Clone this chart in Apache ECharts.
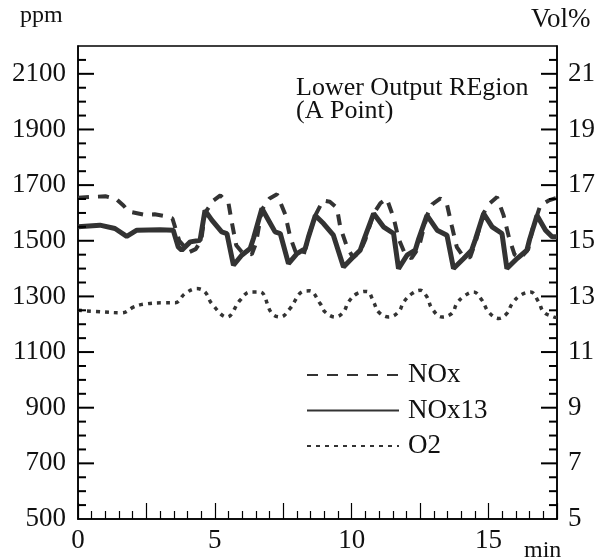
<!DOCTYPE html>
<html>
<head>
<meta charset="utf-8">
<script src="https://cdn.jsdelivr.net/npm/echarts@6/dist/echarts.min.js"></script>
<style>
  html, body { margin: 0; padding: 0; background: #fff; }
  #chart { width: 606px; height: 560px; }
</style>
</head>
<body>
<div id="chart"></div>
<script>
// time in min, NOx / NOx13 in ppm (left axis), O2 in Vol% (right axis)
const noxT = [0, 1.0, 1.4, 1.66, 1.85, 2.4, 2.8, 3.2, 3.45, 3.7, 4.06, 4.3, 4.5, 4.64, 4.95, 5.2, 5.5, 5.62, 5.78, 6.0, 6.35, 6.5, 6.72, 7.0, 7.27, 7.57, 7.75, 7.95, 8.24, 8.42, 8.67, 8.95, 9.2, 9.46, 9.58, 9.83, 10.05, 10.31, 10.5, 10.8, 11.05, 11.28, 11.53, 11.71, 11.95, 12.18, 12.45, 12.75, 12.94, 13.24, 13.48, 13.66, 13.84, 14.1, 14.33, 14.55, 14.82, 15.05, 15.31, 15.55, 15.74, 15.95, 16.16, 16.45, 16.6, 16.89, 17.2, 17.5];
const noxV = [1655, 1660, 1650, 1627, 1605, 1594, 1595, 1588, 1580, 1500, 1459, 1470, 1500, 1600, 1645, 1663, 1634, 1566, 1484, 1458, 1451, 1490, 1612, 1652, 1667, 1595, 1514, 1460, 1448, 1514, 1591, 1645, 1640, 1618, 1550, 1477, 1440, 1462, 1505, 1598, 1635, 1651, 1583, 1508, 1452, 1437, 1475, 1591, 1631, 1652, 1631, 1552, 1477, 1440, 1441, 1505, 1600, 1635, 1657, 1591, 1514, 1450, 1437, 1470, 1540, 1627, 1645, 1655];

const nox13T = [0, 0.8, 1.35, 1.78, 2.15, 3.0, 3.48, 3.66, 3.79, 4.1, 4.46, 4.64, 4.89, 5.25, 5.44, 5.68, 5.98, 6.29, 6.41, 6.72, 6.96, 7.2, 7.39, 7.69, 8.0, 8.3, 8.42, 8.67, 8.97, 9.33, 9.7, 10.0, 10.31, 10.45, 10.8, 11.16, 11.53, 11.71, 12.02, 12.32, 12.45, 12.75, 13.12, 13.48, 13.72, 14.09, 14.38, 14.52, 14.82, 15.13, 15.49, 15.67, 16.04, 16.4, 16.5, 16.77, 17.08, 17.32, 17.5];
const nox13V = [1550, 1556, 1544, 1516, 1538, 1540, 1538, 1478, 1466, 1496, 1502, 1609, 1574, 1532, 1526, 1412, 1448, 1472, 1508, 1616, 1574, 1532, 1526, 1418, 1454, 1472, 1514, 1591, 1562, 1520, 1406, 1436, 1466, 1505, 1598, 1550, 1526, 1400, 1448, 1466, 1508, 1591, 1538, 1520, 1400, 1436, 1466, 1505, 1598, 1550, 1526, 1400, 1436, 1466, 1505, 1591, 1538, 1514, 1514];

const o2T = [0, 0.93, 1.6, 2.04, 2.4, 3.12, 3.55, 3.91, 4.34, 4.64, 4.89, 5.44, 5.92, 6.29, 6.65, 7.08, 7.39, 7.75, 8.18, 8.45, 8.85, 9.03, 9.4, 9.7, 9.88, 10.19, 10.55, 10.8, 10.98, 11.35, 11.71, 11.9, 12.2, 12.5, 12.75, 12.93, 13.3, 13.66, 13.84, 14.09, 14.45, 14.76, 15.0, 15.37, 15.67, 15.86, 16.16, 16.53, 16.83, 17.01, 17.38, 17.5];
const o2V = [12.5, 12.44, 12.41, 12.62, 12.72, 12.77, 12.77, 13.1, 13.28, 13.16, 12.74, 12.26, 12.86, 13.16, 13.16, 12.39, 12.26, 12.57, 13.16, 13.2, 12.74, 12.44, 12.26, 12.44, 12.8, 13.1, 13.18, 12.8, 12.44, 12.26, 12.44, 12.8, 13.1, 13.22, 12.98, 12.57, 12.26, 12.39, 12.74, 13.0, 13.16, 12.86, 12.44, 12.21, 12.39, 12.74, 13.04, 13.16, 12.8, 12.44, 12.26, 12.24];

const xTicksShown = [0, 5, 10, 15];

// y tick marks: left every 50 ppm (long each 200 from 500), right every 0.5 Vol% (long each 2 from 5)
const ppmTicks = [];
for (let v = 550; v < 2200; v += 50) ppmTicks.push(v);
const volTicks = [];
for (let v = 5.5; v < 22; v += 0.5) volTicks.push(v);

const pairs = (t, v) => t.map((x, i) => [x, v[i]]);

const font = '"Liberation Serif", "DejaVu Serif", serif';
const ink = '#111';
const lineCol = '#333';
const xMax = 17.5;
const pxPerMin = (606 - 78 - 49) / xMax;

let myChart = echarts.init(document.getElementById('chart'));

function yLabelAxis(side, min, max, interval, maxLabel) {
    return {
        type: 'value', position: side, min: min, max: max, interval: interval,
        axisLine: { show: true, onZero: false, lineStyle: { color: '#000', width: 1.5 } },
        axisTick: { show: false },
        splitLine: { show: false },
        axisLabel: {
            fontFamily: font, fontSize: 27, color: ink, margin: side === 'left' ? 12 : 11,
            formatter: v => v > maxLabel ? '' : String(v)
        }
    };
}

// one short line series per tick, drawn from the axis edge inward
function tickSeries(axisIdx, xEdge, dir, base, major, ticks) {
    return ticks.map(v => {
        const r = (v - base) / major;
        const len = (Math.abs(r - Math.round(r)) < 1e-6 ? 16 : 8) / pxPerMin;
        return {
            type: 'line', yAxisIndex: axisIdx, silent: true, symbol: 'none', z: 5,
            clip: false,
            lineStyle: { color: '#000', width: 2 },
            data: [[xEdge, v], [xEdge + dir * len, v]]
        };
    });
}

let option = {
    animation: false,
    backgroundColor: '#fff',
    textStyle: { fontFamily: font, color: ink },
    title: {
        text: 'Lower Output REgion\n(A Point)',
        left: 296,
        top: 77,
        padding: 0,
        textStyle: { fontFamily: font, fontSize: 26, fontWeight: 'normal', color: ink, lineHeight: 23 }
    },
    legend: {
        orient: 'vertical',
        left: 306,
        top: 361,
        itemWidth: 92,
        itemHeight: 20,
        itemGap: 7.5,
        padding: 0,
        // hide the marker that ECharts puts on line legend icons
        itemStyle: { color: 'rgba(0,0,0,0)', borderColor: 'rgba(0,0,0,0)', borderWidth: 0 },
        textStyle: { fontFamily: font, fontSize: 27, color: ink, lineHeight: 28, padding: [0, 0, 0, 4] },
        data: ['NOx', 'NOx13', 'O2']
    },
    grid: {
        left: 78, right: 49, top: 46, bottom: 41,
        show: true, borderColor: '#000', borderWidth: 1.5, backgroundColor: 'transparent'
    },
    xAxis: {
        type: 'value', min: 0, max: xMax, interval: 2.5,
        axisLine: { show: true, onZero: false, lineStyle: { color: '#000', width: 1.5 } },
        axisTick: { show: true, inside: true, length: 16, lineStyle: { color: '#000', width: 1.2 } },
        minorTick: { show: true, splitNumber: 5, length: 8, lineStyle: { color: '#000', width: 1.2 } },
        splitLine: { show: false },
        minorSplitLine: { show: false },
        axisLabel: {
            fontFamily: font, fontSize: 27, color: ink, margin: 8,
            showMaxLabel: false,
            formatter: v => xTicksShown.includes(v) ? String(v) : ''
        }
    },
    yAxis: [
        yLabelAxis('left', 500, 2200, 200, 2100),
        yLabelAxis('right', 5, 22, 2, 21)
    ],
    graphic: [
        { type: 'text', left: 20, top: 4, style: { text: 'ppm', font: '24px ' + font, fill: ink } },
        { type: 'text', left: 531, top: 6, style: { text: 'Vol%', font: '27px ' + font, fill: ink } },
        { type: 'text', left: 524, top: 539, style: { text: 'min', font: '24px ' + font, fill: ink } }
    ],
    series: [
        {
            name: 'NOx', type: 'line', yAxisIndex: 0, symbol: 'none',
            lineStyle: { color: lineCol, width: 4, type: [11, 9] },
            itemStyle: { color: lineCol },
            data: pairs(noxT, noxV)
        },
        {
            name: 'NOx13', type: 'line', yAxisIndex: 0, symbol: 'none',
            lineStyle: { color: lineCol, width: 5 },
            itemStyle: { color: lineCol },
            data: pairs(nox13T, nox13V)
        },
        {
            name: 'O2', type: 'line', yAxisIndex: 1, symbol: 'none', smooth: 0.4,
            lineStyle: { color: lineCol, width: 3.5, type: [4, 5] },
            itemStyle: { color: lineCol },
            data: pairs(o2T, o2V)
        }
    ].concat(tickSeries(0, 0, 1, 500, 200, ppmTicks), tickSeries(1, xMax, -1, 5, 2, volTicks))
};

myChart.setOption(option);
</script>
</body>
</html>
